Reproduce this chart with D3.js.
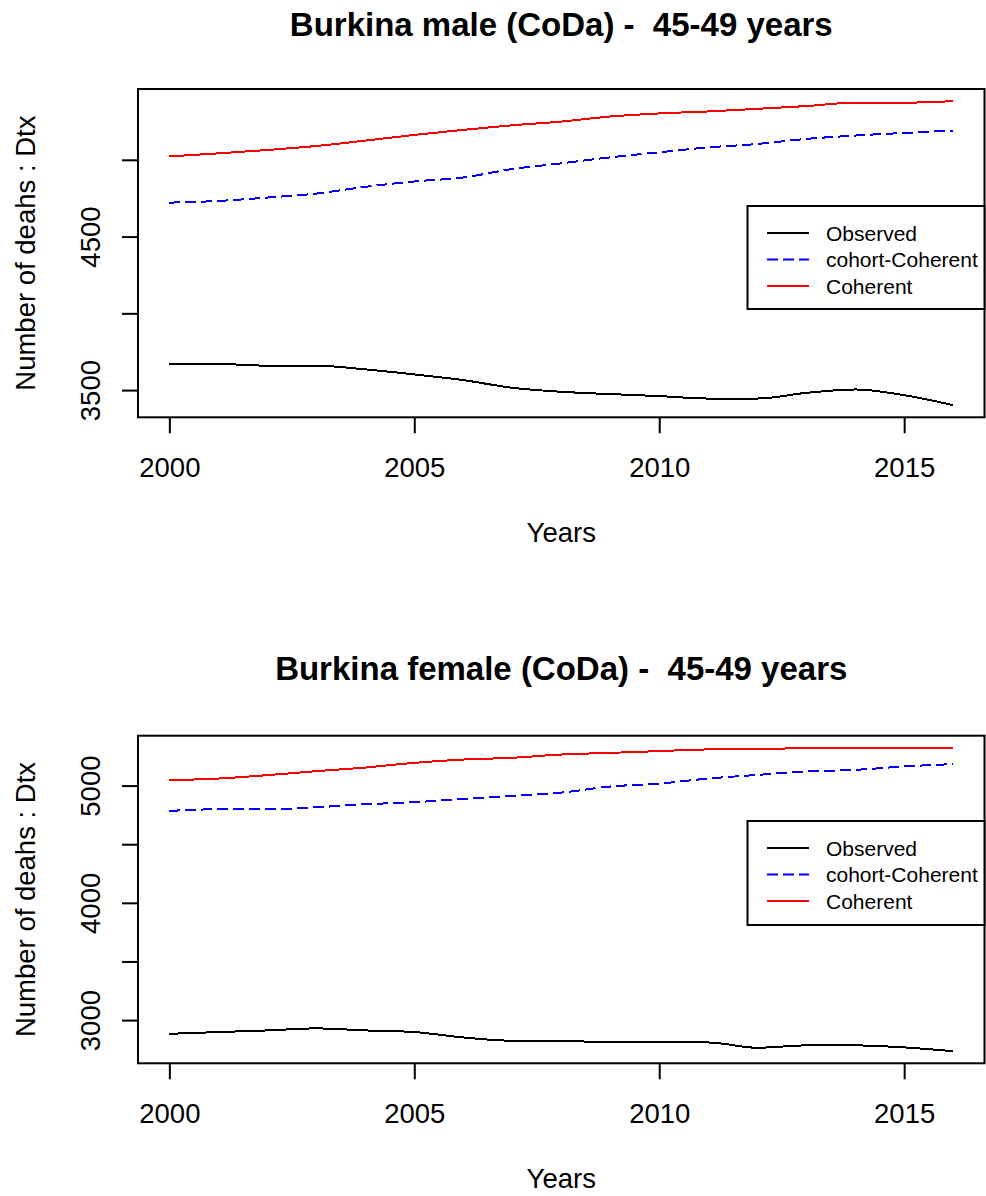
<!DOCTYPE html>
<html>
<head>
<meta charset="utf-8">
<script src="https://cdn.jsdelivr.net/npm/d3@7"></script>
<style>
  html, body { margin: 0; padding: 0; background: #fff; }
  svg { display: block; font-family: "Liberation Sans", Arial, sans-serif; }
  text { white-space: pre; }
</style>
</head>
<body>
<svg id="chart" width="986" height="1196"></svg>
<script>
// ---------- data ----------
const years = [2000,2001,2002,2003,2004,2005,2006,2007,2008,2009,2010,2011,2012,2013,2014,2015,2016];

const maleObserved = [3670,3670,3659,3659,3635,3602,3565,3515,3489,3474,3461,3445,3445,3482,3504,3467,3402];
const maleCohort   = [4721,4732,4754,4780,4824,4859,4885,4940,4977,5016,5049,5081,5103,5136,5158,5175,5190];
const maleCoherent = [5022,5042,5064,5090,5125,5162,5195,5225,5249,5282,5302,5315,5332,5350,5372,5372,5382];

const femaleObserved = [2883,2898,2912,2929,2912,2898,2852,2824,2824,2809,2809,2809,2764,2784,2784,2767,2735];
const femaleCohort   = [4784,4798,4798,4815,4841,4858,4886,4912,4940,4992,5017,5060,5091,5120,5134,5163,5183];
const femaleCoherent = [5046,5060,5089,5123,5154,5194,5222,5237,5265,5279,5294,5308,5308,5322,5322,5322,5322];

const xTicks = [2000, 2005, 2010, 2015];
const maleYTicks = [3500, 4000, 4500, 5000];
const maleYLabels = [3500, 4500];
const femaleYTicks = [3000, 3500, 4000, 4500, 5000];
const femaleYLabels = [3000, 4000, 5000];

const seriesNames = ["Observed", "cohort-Coherent", "Coherent"];
const seriesColors = ["#000000", "#0000FF", "#FF0000"];
const seriesDash = [null, "11,5", null];

const titles = ["Burkina male (CoDa) -  45-49 years", "Burkina female (CoDa) -  45-49 years"];
const xTitle = "Years";
const yTitle = "Number of deahs : Dtx";

// ---------- layout ----------
const svg = d3.select("#chart");
const left = 138, right = 984.5;
const panels = [
  { title: titles[0], series: [maleObserved, maleCohort, maleCoherent], yTicks: maleYTicks, yLabels: maleYLabels,
    top: 89, bottom: 417.3, titleY: 36, legendTop: 206, legendBottom: 309 },
  { title: titles[1], series: [femaleObserved, femaleCohort, femaleCoherent], yTicks: femaleYTicks, yLabels: femaleYLabels,
    top: 735.7, bottom: 1063.3, titleY: 679.5, legendTop: 821, legendBottom: 925 }
];

const xPad = 0.04 * (d3.max(years) - d3.min(years));
const x = d3.scaleLinear().domain([d3.min(years) - xPad, d3.max(years) + xPad]).range([left, right]);

panels.forEach(p => {
  const all = p.series.flat();
  const lo = d3.min(all), hi = d3.max(all);
  const pad = 0.04 * (hi - lo);
  const y = d3.scaleLinear().domain([lo - pad, hi + pad]).range([p.bottom, p.top]);
  const g = svg.append("g");

  // title
  g.append("text").attr("x", (left + right) / 2).attr("y", p.titleY)
    .attr("text-anchor", "middle").attr("font-weight", "bold").attr("font-size", 33)
    .attr("xml:space", "preserve")
    .text(p.title);

  // series lines
  const line = d3.line().x((d, i) => x(years[i])).y(d => y(d)).curve(d3.curveMonotoneX);
  p.series.forEach((s, k) => {
    g.append("path").datum(s).attr("d", line)
      .attr("fill", "none").attr("stroke", seriesColors[k]).attr("stroke-width", 2)
      .attr("stroke-dasharray", seriesDash[k])
      .attr("shape-rendering", "crispEdges");
  });

  // x axis
  const xa = g.append("g").attr("transform", `translate(0,${p.bottom})`)
    .call(d3.axisBottom(x).tickValues(xTicks).tickSize(16).tickPadding(0).tickFormat(d3.format("d")));
  xa.select(".domain").remove();
  xa.selectAll(".tick line").attr("stroke", "#000").attr("stroke-width", 2);
  xa.selectAll(".tick text").attr("font-size", 27.5).attr("fill", "#000")
    .attr("y", 59.5).attr("dy", null);

  // y axis
  const ya = g.append("g").attr("transform", `translate(${left},0)`)
    .call(d3.axisLeft(y).tickValues(p.yTicks).tickSize(16)
      .tickFormat(d => p.yLabels.includes(d) ? String(d) : ""));
  ya.select(".domain").remove();
  ya.selectAll(".tick line").attr("stroke", "#000").attr("stroke-width", 2);
  ya.selectAll(".tick text").attr("font-size", 27.5).attr("fill", "#000")
    .attr("x", null).attr("dy", null)
    .attr("text-anchor", "middle")
    .attr("transform", `translate(${100 - left},0) rotate(-90)`);

  // box
  g.append("rect").attr("x", left).attr("y", p.top)
    .attr("width", right - left).attr("height", p.bottom - p.top)
    .attr("fill", "none").attr("stroke", "#000").attr("stroke-width", 2);

  // axis titles
  g.append("text").attr("x", (left + right) / 2).attr("y", p.bottom + 124.4)
    .attr("text-anchor", "middle").attr("font-size", 27.5).text(xTitle);
  g.append("text").attr("transform", `translate(35,${(p.top + p.bottom) / 2}) rotate(-90)`)
    .attr("text-anchor", "middle").attr("font-size", 27.5).text(yTitle);

  // legend
  const lg = g.append("g");
  lg.append("rect").attr("x", 747.5).attr("y", p.legendTop)
    .attr("width", right - 747.5).attr("height", p.legendBottom - p.legendTop)
    .attr("fill", "#fff").attr("stroke", "#000").attr("stroke-width", 2);
  seriesNames.forEach((name, k) => {
    const cy = p.legendTop + 27 + k * 26.5;
    lg.append("line").attr("x1", 767).attr("x2", 809).attr("y1", cy).attr("y2", cy)
      .attr("stroke", seriesColors[k]).attr("stroke-width", 2).attr("stroke-dasharray", seriesDash[k]);
    lg.append("text").attr("x", 826).attr("y", cy + 7.5).attr("font-size", 21).text(name);
  });
});
</script>
</body>
</html>
